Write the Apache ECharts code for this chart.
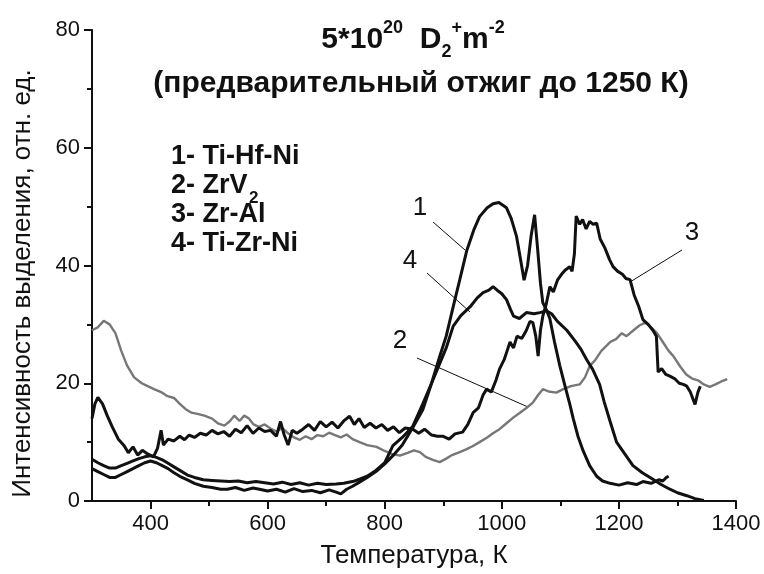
<!DOCTYPE html>
<html>
<head>
<meta charset="utf-8">
<script src="https://cdn.jsdelivr.net/npm/echarts@6/dist/echarts.min.js"></script>
<style>
  html, body { margin: 0; padding: 0; background: #fff; }
  #main { width: 764px; height: 574px; }
</style>
</head>
<body>
<div id="main"></div>
<script>
// значения: [температура, K ; интенсивность]
var curve1 = [[300,5.5],[310,5],[320,4.5],[330,4],[340,4],[350,4.5],[360,5],[370,5.5],[380,6],[390,6.5],[400,6.8],[410,6.5],[420,6],[430,5.5],[440,4.8],[450,4.2],[463,3.6],[475,3],[490,2.5],[505,2.3],[520,2],[531,2],[545,2.3],[560,1.8],[575,2.2],[586,2],[600,1.7],[615,2],[630,1.5],[645,2.1],[660,1.6],[675,1.8],[690,1.4],[705,1.9],[717,1.5],[725,1.2],[735,2],[745,2.5],[757,3.2],[770,4],[785,5],[800,6.3],[814,7.7],[830,9.5],[848,12.5],[865,15.5],[880,20],[894,24.6],[905,28],[917,33],[928,37.5],[940,42.5],[952,46],[962,48.3],[975,49.8],[985,50.5],[995,50.7],[1008,49.8],[1016,48],[1025,45],[1032,41],[1038,37.5],[1044,40],[1050,45],[1056,48.6],[1061,43],[1066,37],[1070,33.7],[1076,32.5],[1082,31],[1090,27],[1099,23],[1108,19.5],[1116,16.5],[1122,14],[1130,11],[1139,8.5],[1150,6],[1162,4.2],[1172,3.4],[1185,3],[1200,2.7],[1215,3.1],[1230,2.8],[1241,3.3],[1255,3],[1268,3.6],[1275,3.4],[1281,4],[1285,4.2]];

var curve2 = [[300,29],[310,29.5],[320,30.6],[330,30],[340,28.5],[350,25.5],[360,23],[372,21],[385,20],[395,19.5],[406,19],[418,18.5],[429,17.8],[440,17.5],[450,16.5],[460,15.6],[470,15],[480,14.8],[492,14.5],[505,14],[515,13.2],[526,12.8],[535,13.5],[543,14.5],[552,13.6],[560,14.5],[568,14],[576,13],[585,12.6],[595,13],[605,12.3],[615,11.8],[625,12.4],[635,11.5],[645,10.8],[655,10.4],[665,11],[675,10.5],[685,11.2],[695,11],[705,11.6],[715,11.2],[725,10.8],[735,11.3],[745,10.5],[757,10],[770,9.5],[786,9.2],[800,8.5],[812,8],[826,7.7],[840,8.2],[850,8.6],[860,8.3],[870,7.5],[882,7],[894,6.6],[905,7.2],[915,7.8],[928,8.3],[940,8.8],[950,9.3],[962,10],[975,10.8],[985,11.5],[996,12.2],[1008,13.2],[1020,14.2],[1031,15],[1042,15.8],[1053,16.7],[1062,18],[1070,19],[1080,18.6],[1093,18.4],[1105,19],[1118,19.5],[1133,19.8],[1142,21],[1150,22.9],[1160,24],[1170,25.5],[1185,27],[1195,27.5],[1205,28.5],[1213,28],[1225,29],[1235,29.8],[1245,30.3],[1255,29.5],[1265,28.5],[1275,27],[1285,25.5],[1293,24.6],[1305,22.8],[1315,21.5],[1325,20.8],[1335,20.5],[1345,19.8],[1355,19.4],[1365,19.8],[1375,20.3],[1385,20.7]];

var curve3 = [[300,14],[305,16.5],[310,17.6],[318,16.5],[326,14.5],[335,12.5],[345,10.5],[355,9.4],[362,8.2],[370,9.2],[378,7.8],[386,8.6],[395,8],[405,7.5],[412,9],[418,12],[422,9.5],[430,10.5],[440,10.2],[450,11],[458,10.4],[466,11.2],[475,10.8],[485,11.5],[495,11.2],[505,12],[515,11.4],[525,11.8],[535,11],[545,12.2],[555,11.6],[565,12.8],[575,11.5],[585,12.4],[595,11.8],[605,12],[615,11],[622,13.5],[628,11.3],[635,9.5],[642,12],[650,11.5],[660,12.2],[670,13],[680,12],[690,13.5],[700,12.6],[710,13.4],[720,12.4],[730,13.6],[740,14.4],[748,13],[756,14],[765,12.5],[775,13.2],[785,12.4],[795,13],[805,12],[815,12.6],[825,11.6],[835,12.4],[848,12.2],[858,11.5],[868,12.2],[880,11.2],[890,11],[899,11],[910,10.5],[920,11.4],[933,11.7],[942,13],[951,15],[960,15.8],[968,18],[974,19],[982,18.5],[990,20.5],[996,22.4],[1004,24],[1010,25.8],[1014,27],[1020,26],[1026,28],[1034,27.6],[1042,29],[1048,30.5],[1053,30.3],[1058,28],[1062,24.6],[1066,29],[1070,31.4],[1076,33.5],[1082,36.4],[1088,35.5],[1095,37.5],[1102,38.5],[1108,39.2],[1116,39.8],[1120,39],[1124,42],[1127,48.4],[1133,47],[1138,47.8],[1144,46.2],[1150,47.5],[1156,47],[1162,47.2],[1168,44.5],[1176,43],[1184,41],[1190,39.8],[1198,39],[1206,38.5],[1212,37.8],[1219,37.6],[1226,35],[1234,33],[1241,30.8],[1250,30],[1258,29],[1264,28],[1267,21.9],[1273,22.5],[1280,21.5],[1287,21.2],[1295,20.8],[1303,20],[1310,19.8],[1316,19.5],[1322,18.5],[1330,16.4],[1335,18.5],[1339,19.5]];

var curve4 = [[300,7.1],[310,6.5],[320,6],[330,5.6],[340,5.6],[350,6],[360,6.4],[370,6.8],[380,7.2],[390,7.5],[400,7.7],[410,7.4],[420,7],[430,6.4],[440,5.8],[450,5.2],[463,4.4],[475,4],[490,3.6],[505,3.5],[520,3.4],[535,3.3],[550,3.4],[565,3.1],[580,3.3],[595,3.1],[610,2.9],[625,3.2],[640,2.8],[655,3.1],[670,2.7],[685,3],[700,2.8],[717,2.9],[730,3],[745,3.3],[757,3.7],[770,4.2],[785,5.2],[800,6.5],[814,9.4],[830,10.8],[848,12.7],[865,16.5],[880,20],[890,22.4],[905,26],[917,29.7],[930,31.5],[946,33],[958,34.5],[968,35.4],[978,35.8],[985,36.4],[992,35.8],[1000,35.2],[1008,34.2],[1015,32.5],[1020,31.4],[1030,31],[1042,32],[1055,31.8],[1065,32],[1076,32.3],[1085,31.8],[1095,30.5],[1111,29],[1125,27.2],[1135,25.8],[1145,24],[1155,22.4],[1167,19.8],[1175,16.8],[1185,13.5],[1196,10],[1210,8],[1224,6],[1240,4.8],[1258,3.7],[1272,2.8],[1287,2],[1300,1.4],[1316,0.9],[1330,0.4],[1345,0.1]];

var xMajor = [400, 600, 800, 1000, 1200, 1400];
var xMinor = [500, 700, 900, 1100, 1300];

var FONT = '"Liberation Sans", Arial, sans-serif';

var myChart = echarts.init(document.getElementById('main'));

function line(data, color, width) {
    return {
        type: 'line',
        data: data,
        showSymbol: false,
        silent: true,
        animation: false,
        lineStyle: { color: color, width: width }
    };
}

function txt(s, x, y, font, align) {
    return { type: 'text', style: { x: x, y: y, text: s, align: align || 'center', verticalAlign: 'middle', font: font, fill: '#111' } };
}

function leader(x1, y1, x2, y2) {
    return { type: 'line', shape: { x1: x1, y1: y1, x2: x2, y2: y2 }, style: { stroke: '#111', lineWidth: 1 } };
}

var NUMF = '26px ' + FONT;
var LEGF = 'bold 27px ' + FONT;

option = {
    backgroundColor: '#fff',
    animation: false,
    grid: { left: 92, right: 28, top: 30, bottom: 72 },
    xAxis: [
        {
            type: 'value',
            min: 300,
            max: 1400,
            name: 'Температура, К',
            nameLocation: 'middle',
            nameGap: 42,
            nameTextStyle: { fontFamily: FONT, fontSize: 26, color: '#111' },
            axisLine: { lineStyle: { color: '#111', width: 2 } },
            axisTick: { customValues: xMajor, length: 8, lineStyle: { color: '#111', width: 2 } },
            axisLabel: {
                customValues: xMajor, fontFamily: FONT, fontSize: 22, color: '#111', margin: 12,
                formatter: function (v) { return String(v); }
            },
            splitLine: { show: false }
        },
        {
            // только мелкие штрихи
            type: 'value',
            min: 300,
            max: 1400,
            position: 'bottom',
            axisLine: { show: false },
            axisTick: { customValues: xMinor, length: 5, lineStyle: { color: '#111', width: 2 } },
            axisLabel: { show: false },
            splitLine: { show: false }
        }
    ],
    yAxis: {
        type: 'value',
        min: 0,
        max: 80,
        interval: 20,
        name: 'Интенсивность выделения, отн. ед.',
        nameLocation: 'middle',
        nameGap: 56,
        nameTextStyle: { fontFamily: FONT, fontSize: 26, color: '#111', padding: [0, 36, 0, 0] },
        axisLine: { show: true, lineStyle: { color: '#111', width: 2 } },
        axisTick: { length: 8, lineStyle: { color: '#111', width: 2 } },
        minorTick: { show: true, splitNumber: 2, length: 5, lineStyle: { color: '#111', width: 2 } },
        axisLabel: { fontFamily: FONT, fontSize: 22, color: '#111', margin: 12 },
        splitLine: { show: false }
    },
    series: [
        line(curve2, '#777', 2.4),
        line(curve3, '#111', 3),
        line(curve4, '#111', 3),
        line(curve1, '#111', 3)
    ],
    graphic: [
        {
            type: 'text',
            style: {
                x: 413, y: 40,
                text: '{m|5*10}{sup|20}{m|  D}{sub|2}{sup|+}{m|m}{sup|-2}',
                align: 'center',
                verticalAlign: 'middle',
                font: 'bold 30px ' + FONT,
                fill: '#111',
                rich: {
                    m: { fontFamily: FONT, fontWeight: 'bold', fontSize: 30, lineHeight: 42, fill: '#111' },
                    sup: { fontFamily: FONT, fontWeight: 'bold', fontSize: 18, lineHeight: 18, verticalAlign: 'top', fill: '#111' },
                    sub: { fontFamily: FONT, fontWeight: 'bold', fontSize: 18, lineHeight: 18, verticalAlign: 'bottom', fill: '#111' }
                }
            }
        },
        txt('(предварительный отжиг до 1250 К)', 421, 84, 'bold 30px ' + FONT),
        // легенда
        txt('1- Ti-Hf-Ni', 171, 157, LEGF, 'left'),
        txt('2- ZrV', 171, 186, LEGF, 'left'),
        txt('2', 249, 198, 'bold 17px ' + FONT, 'left'),
        txt('3- Zr-Al', 171, 215, LEGF, 'left'),
        txt('4- Ti-Zr-Ni', 171, 244, LEGF, 'left'),
        // номера кривых
        txt('1', 420, 208, NUMF),
        txt('4', 410, 261, NUMF),
        txt('2', 400, 341, NUMF),
        txt('3', 692, 233, NUMF),
        leader(433, 222, 465, 250),
        leader(427, 273, 470, 312),
        leader(417, 358, 528, 407),
        leader(682, 250, 630, 282)
    ]
};

myChart.setOption(option);
</script>
</body>
</html>
